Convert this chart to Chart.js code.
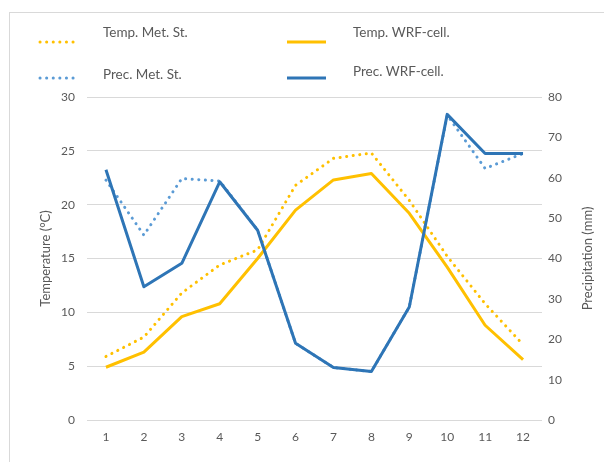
<!DOCTYPE html>
<html>
<head>
<meta charset="utf-8">
<script src="https://cdn.jsdelivr.net/npm/chart.js@4"></script>
<style>
  html, body { margin: 0; padding: 0; background: #fff; }
  #wrap { width: 604px; height: 462px; }
</style>
</head>
<body>
<div id="wrap"><canvas id="climateChart" width="604" height="462"></canvas></div>
<script>
var months = ["1", "2", "3", "4", "5", "6", "7", "8", "9", "10", "11", "12"];
var tempMetSt = [5.9, 7.7, 11.8, 14.4, 15.8, 21.8, 24.3, 24.8, 20.4, 15.2, 10.8, 7.0];
var tempWrf = [4.9, 6.3, 9.6, 10.8, 15.0, 19.5, 22.3, 22.9, 19.2, 14.2, 8.8, 5.6];
var precMetSt = [59.4, 45.8, 59.8, 59.2, 47.0, 19.0, 13.0, 12.0, 28.0, 75.5, 62.3, 66.0];
var precWrf = [62.0, 33.0, 38.8, 59.0, 47.0, 19.0, 13.0, 12.0, 28.0, 75.7, 66.0, 66.0];
var tempTicks = [0, 5, 10, 15, 20, 25, 30];
var precTicks = [0, 10, 20, 30, 40, 50, 60, 70, 80];

var orange = "#FFC000";
var blueSolid = "#2E75B6";
var blueDot = "#5B9BD5";
var grey = "#595959";
var fontFam = "Lato, 'Open Sans', sans-serif";
var dots = [0.1, 6.5];

// frame round the chart, legend in two rows and the right axis title (reads bottom to top)
var framePlugin = {
  id: "frame",
  beforeDraw: function (chart) {
    var c = chart.ctx;
    c.save();
    c.fillStyle = "#fff";
    c.fillRect(0, 0, chart.width, chart.height);
    c.strokeStyle = "#d9d9d9";
    c.lineWidth = 1;
    c.strokeRect(9.5, 12.5, 700, 600);
    c.restore();
  },
  afterDraw: function (chart) {
    var c = chart.ctx;
    var spots = [
      { x: 40, y: 42, tx: 103, ty: 33 },
      { x: 287, y: 42, tx: 353, ty: 33 },
      { x: 40, y: 78, tx: 103, ty: 75 },
      { x: 287, y: 78, tx: 353, ty: 72 }
    ];
    chart.data.datasets.forEach(function (ds, i) {
      var s = spots[i];
      c.save();
      c.strokeStyle = ds.borderColor;
      c.lineWidth = ds.borderWidth;
      c.lineCap = ds.borderCapStyle || "butt";
      c.setLineDash(ds.borderDash || []);
      c.beginPath();
      c.moveTo(s.x, s.y);
      c.lineTo(s.x + 39, s.y);
      c.stroke();
      c.setLineDash([]);
      c.fillStyle = grey;
      c.font = "13.5px " + fontFam;
      c.textBaseline = "middle";
      c.textAlign = "left";
      c.fillText(ds.label, s.tx, s.ty);
      c.restore();
    });

    var area = chart.chartArea;
    c.save();
    c.translate(588, (area.top + area.bottom) / 2);
    c.rotate(-Math.PI / 2);
    c.fillStyle = grey;
    c.font = "13px " + fontFam;
    c.textAlign = "center";
    c.textBaseline = "middle";
    c.fillText("Precipitation (mm)", 0, 0);
    c.restore();
  }
};

var ctx = document.getElementById("climateChart").getContext("2d");
var climateChart = new Chart(ctx, {
  type: "line",
  data: {
    labels: months,
    datasets: [
      {
        label: "Temp. Met. St.",
        data: tempMetSt,
        yAxisID: "yTemp",
        borderColor: orange,
        borderWidth: 3,
        borderDash: dots,
        borderCapStyle: "round",
        order: 2
      },
      {
        label: "Temp. WRF-cell.",
        data: tempWrf,
        yAxisID: "yTemp",
        borderColor: orange,
        borderWidth: 3,
        order: 1
      },
      {
        label: "Prec. Met. St.",
        data: precMetSt,
        yAxisID: "yPrec",
        borderColor: blueDot,
        borderWidth: 3,
        borderDash: dots,
        borderCapStyle: "round",
        order: 3
      },
      {
        label: "Prec. WRF-cell.",
        data: precWrf,
        yAxisID: "yPrec",
        borderColor: blueSolid,
        borderWidth: 3,
        order: 0
      }
    ]
  },
  options: {
    responsive: false,
    animation: false,
    devicePixelRatio: 1,
    elements: {
      point: { radius: 0, hoverRadius: 0 },
      line: { tension: 0, borderJoinStyle: "round" }
    },
    layout: { padding: { top: 97, left: 38, right: 9, bottom: 12 } },
    scales: {
      x: {
        offset: true,
        grid: { display: false, drawTicks: false, offset: true },
        border: { display: false },
        ticks: { color: grey, font: { family: fontFam, size: 12 }, padding: 10, maxRotation: 0 },
        afterFit: function (s) { s.height = 30; }
      },
      yTemp: {
        position: "left",
        min: 0,
        max: 30,
        afterBuildTicks: function (s) { s.ticks = tempTicks.map(function (v) { return { value: v }; }); },
        grid: { color: "#d9d9d9", lineWidth: 1, drawTicks: false },
        border: { display: false },
        ticks: { color: grey, font: { family: fontFam, size: 12 }, padding: 12 },
        title: { display: true, text: "Temperature (°C)", color: grey, font: { family: fontFam, size: 13 }, padding: 0 },
        afterFit: function (s) { s.width = 49; }
      },
      yPrec: {
        position: "right",
        min: 0,
        max: 80,
        afterBuildTicks: function (s) { s.ticks = precTicks.map(function (v) { return { value: v }; }); },
        grid: { display: false, drawTicks: false },
        border: { display: false },
        ticks: { color: grey, font: { family: fontFam, size: 12 }, padding: 6 },
        afterFit: function (s) { s.width = 53; }
      }
    },
    plugins: {
      legend: { display: false },
      tooltip: { enabled: false }
    }
  },
  plugins: [framePlugin]
});
</script>
</body>
</html>
